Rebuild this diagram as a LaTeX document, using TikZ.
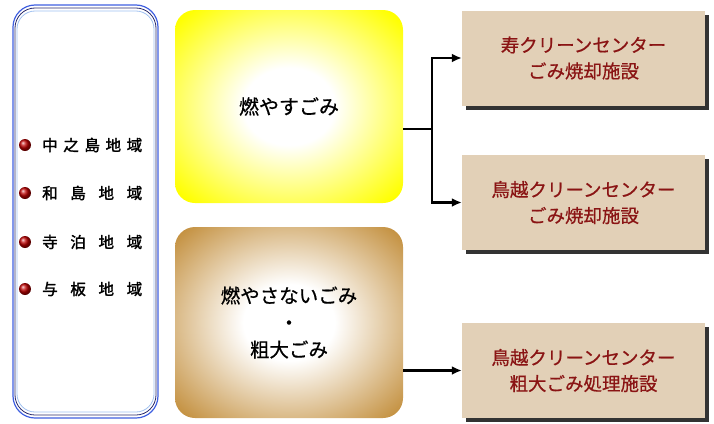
\documentclass[tikz,border=0pt]{standalone}
\usepackage{fontspec}
\setmainfont{Noto Sans CJK JP}[FakeBold=0.6]
\newfontfamily\jpbold{Noto Sans CJK JP}[FakeBold=1.8]
\usetikzlibrary{arrows.meta,shadows}
\definecolor{tanfill}{HTML}{E2D0B7}
\definecolor{darkred}{HTML}{8A1414}
\definecolor{brownedge}{HTML}{C38F3D}
\definecolor{frameblue}{HTML}{3F5FE0}
\definecolor{framenavy}{HTML}{2A2A6A}
\definecolor{framelight}{HTML}{9FC0F0}
\pgfdeclareradialshading{yellowglow}{\pgfpoint{0bp}{0bp}}{color(0bp)=(white); color(10bp)=(white); color(33bp)=(yellow); color(50bp)=(yellow)}
\pgfdeclareradialshading{brownglow}{\pgfpoint{0bp}{0bp}}{color(0bp)=(white); color(10bp)=(white); color(34bp)=(brownedge); color(50bp)=(brownedge)}
\tikzset{
  catbox/.style={rounded corners=20pt, minimum width=228pt, align=center, font=\fontsize{20}{27}\selectfont},
  facbox/.style={fill=tanfill, minimum width=243pt, minimum height=95pt, align=center, text=darkred,
    font=\fontsize{18.5}{26}\selectfont, drop shadow={shadow xshift=4pt, shadow yshift=-4pt, fill=black!80, opacity=1}},
  arr/.style={line width=2.2pt, -{Latex[length=10pt,width=9pt]}},
  conn/.style={line width=2.2pt},
  bullet/.style={circle, minimum size=12pt, inner sep=0pt, ball color=red!75!black},
  area/.style={anchor=west, inner sep=0pt, font=\jpbold\fontsize{15.5}{17}\selectfont}
}
\begin{document}
\begin{tikzpicture}[x=1pt,y=-1pt]
\useasboundingbox (0,0) rectangle (714,423);
% left frame
\draw[frameblue, line width=1.2pt, rounded corners=22pt] (13,5) rectangle (158,418);
\draw[framenavy, line width=0.8pt, rounded corners=20pt] (15,8) rectangle (156,415);
\draw[framelight, line width=0.8pt, rounded corners=18pt] (17,11) rectangle (154,412);
\node[minimum width=145pt, minimum height=413pt, inner sep=0pt] (frame) at (85.5,211.5) {};
% bullets and areas
\node[bullet] (b1) at (25,145) {};
\node[bullet] (b2) at (25,193) {};
\node[bullet] (b3) at (25,242) {};
\node[bullet] (b4) at (25,289) {};
\node[area] (a1) at (42,145) {\makebox[100pt][s]{中\hfil 之\hfil 島\hfil 地\hfil 域}};
\node[area] (a2) at (42,193) {\makebox[100pt][s]{和\hfil 島\hfil 地\hfil 域}};
\node[area] (a3) at (42,242) {\makebox[100pt][s]{寺\hfil 泊\hfil 地\hfil 域}};
\node[area] (a4) at (42,289) {\makebox[100pt][s]{与\hfil 板\hfil 地\hfil 域}};
% category boxes
\node[catbox, minimum height=193pt, shading=yellowglow] (yel) at (289,106.5) {燃やすごみ};
\node[catbox, minimum height=191pt, shading=brownglow, font=\fontsize{19.5}{27}\selectfont] (brn) at (289,322.5) {燃やさないごみ\\・\\粗大ごみ};
% facility boxes
\node[facbox] (r1) at (583.5,58) {寿クリーンセンター\\ごみ焼却施設};
\node[facbox] (r2) at (583.5,202.5) {鳥越クリーンセンター\\ごみ焼却施設};
\node[facbox] (r3) at (583.5,370.5) {鳥越クリーンセンター\\粗大ごみ処理施設};
% connectors
\coordinate (j) at (432,129);
\draw[conn] (yel.east |- j) -- (j);
\draw[arr] (j) |- (r1.west);
\draw[arr] (j) |- (r2.west);
\draw[arr] (r3.west -| brn.east) -- (r3.west);
\end{tikzpicture}
\end{document}
